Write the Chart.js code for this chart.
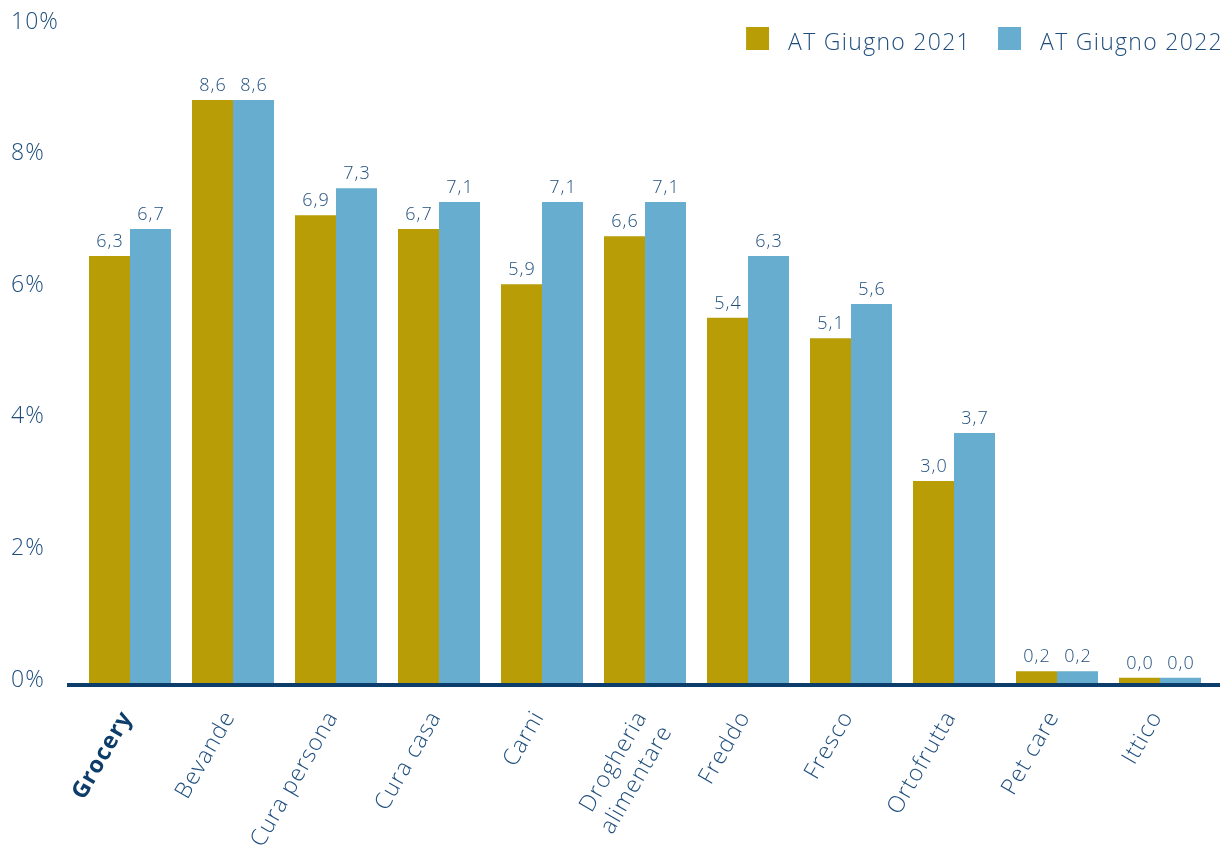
<!DOCTYPE html>
<html>
<head>
<meta charset="utf-8">
<script src="https://cdn.jsdelivr.net/npm/chart.js@4.4.0/dist/chart.umd.min.js"></script>
<style>
html,body{margin:0;padding:0;background:#ffffff;}
#wrap{width:1232px;height:848px;position:relative;}
</style>
</head>
<body>
<div id="wrap"><canvas id="c" width="1232" height="848"></canvas></div>
<script>
// ---- data ----
const categories = ['Grocery','Bevande','Cura persona','Cura casa','Carni',['Drogheria','alimentare'],'Freddo','Fresco','Ortofrutta','Pet care','Ittico'];
const seriesNames = ['AT Giugno 2021','AT Giugno 2022'];
// bar heights as drawn (percent)
const values2021 = [6.49,8.86,7.11,6.90,6.06,6.79,5.55,5.24,3.07,0.18,0.08];
const values2022 = [6.90,8.86,7.52,7.31,7.31,7.31,6.49,5.76,3.80,0.18,0.08];
// value labels printed above the bars
const labels2021 = ['6,3','8,6','6,9','6,7','5,9','6,6','5,4','5,1','3,0','0,2','0,0'];
const labels2022 = ['6,7','8,6','7,3','7,1','7,1','7,1','6,3','5,6','3,7','0,2','0,0'];
const yTicks = [0,2,4,6,8,10];

const COL_2021 = '#b89d06';
const COL_2022 = '#67adcf';
const TEXT = '#1f4e7d';
const NAVY = '#0d3d6b';
const FONT = "'Open Sans', sans-serif";

const spacingPlugin = {
  id: 'letterSpacing',
  beforeDraw(chart) {
    if ('letterSpacing' in chart.ctx) chart.ctx.letterSpacing = '1px';
  }
};

const valueLabelPlugin = {
  id: 'valueLabels',
  afterDatasetsDraw(chart) {
    const ctx = chart.ctx;
    ctx.save();
    ctx.font = '300 18px ' + FONT;
    ctx.fillStyle = TEXT;
    ctx.textAlign = 'center';
    ctx.textBaseline = 'alphabetic';
    chart.data.datasets.forEach((ds, di) => {
      const meta = chart.getDatasetMeta(di);
      meta.data.forEach((el, i) => {
        ctx.fillText(ds.valueLabels[i], el.x + 0.5, el.y - 9);
      });
    });
    ctx.restore();
  }
};

const axisLinePlugin = {
  id: 'axisLine',
  afterDatasetsDraw(chart) {
    const ctx = chart.ctx;
    const y0 = chart.scales.y.getPixelForValue(0);
    const a = chart.chartArea;
    ctx.save();
    ctx.strokeStyle = NAVY;
    ctx.lineWidth = 4;
    ctx.beginPath();
    ctx.moveTo(a.left - 11.5, y0 + 2);
    ctx.lineTo(a.right + 8.5, y0 + 2);
    ctx.stroke();
    ctx.restore();
  }
};

const legendPlugin = {
  id: 'customLegend',
  afterDraw(chart) {
    const ctx = chart.ctx;
    ctx.save();
    if ('letterSpacing' in ctx) ctx.letterSpacing = '1.3px';
    ctx.font = '300 23px ' + FONT;
    ctx.textBaseline = 'alphabetic';
    ctx.textAlign = 'left';
    const box = 23, gapText = 19, gapItem = 27;
    const items = chart.data.datasets.map(ds => ({text: ds.label, color: ds.backgroundColor, w: ctx.measureText(ds.label).width}));
    let total = 0;
    items.forEach((it, i) => { total += box + gapText + it.w + (i ? gapItem : 0); });
    let x = chart.width - 9 - total;
    const yTop = 27;
    items.forEach((it, i) => {
      if (i) x += gapItem;
      ctx.fillStyle = it.color;
      ctx.fillRect(x, yTop, box, box);
      x += box + gapText;
      ctx.fillStyle = TEXT;
      ctx.fillText(it.text, x, yTop + box - 0.5);
      x += it.w;
    });
    ctx.restore();
  }
};

new Chart(document.getElementById('c'), {
  type: 'bar',
  data: {
    labels: categories,
    datasets: [
      { label: seriesNames[0], data: values2021, valueLabels: labels2021, backgroundColor: COL_2021, borderWidth: 0, barPercentage: 1, categoryPercentage: 0.796 },
      { label: seriesNames[1], data: values2022, valueLabels: labels2022, backgroundColor: COL_2022, borderWidth: 0, barPercentage: 1, categoryPercentage: 0.796 }
    ]
  },
  options: {
    responsive: false,
    devicePixelRatio: 1,
    animation: false,
    layout: { padding: { left: 11, right: 20.5, top: 25, bottom: 0 } },
    plugins: { legend: { display: false }, tooltip: { enabled: false } },
    scales: {
      x: {
        type: 'category',
        offset: true,
        grid: { display: false, drawTicks: false },
        border: { display: false },
        afterFit(s) { s.height = 165; },
        ticks: {
          autoSkip: false,
          minRotation: 60,
          maxRotation: 60,
          padding: 23,
          labelOffset: -3,
          color: (c) => c.index === 0 ? NAVY : TEXT,
          font: (c) => c.index === 0
            ? { family: FONT, size: 23, weight: 700, lineHeight: 1.25 }
            : { family: FONT, size: 23, weight: 300, lineHeight: 1.25 }
        }
      },
      y: {
        min: 0,
        max: 10,
        grid: { display: false, drawTicks: false },
        border: { display: false },
        afterFit(s) { s.width = 67.5; },
        afterBuildTicks(s) { s.ticks = yTicks.map(v => ({ value: v })); },
        ticks: {
          crossAlign: 'far',
          padding: 0,
          labelOffset: -3,
          color: TEXT,
          font: { family: FONT, size: 23, weight: 300 },
          callback: (v) => v + '%'
        }
      }
    }
  },
  plugins: [spacingPlugin, valueLabelPlugin, axisLinePlugin, legendPlugin]
});
</script>
</body>
</html>
